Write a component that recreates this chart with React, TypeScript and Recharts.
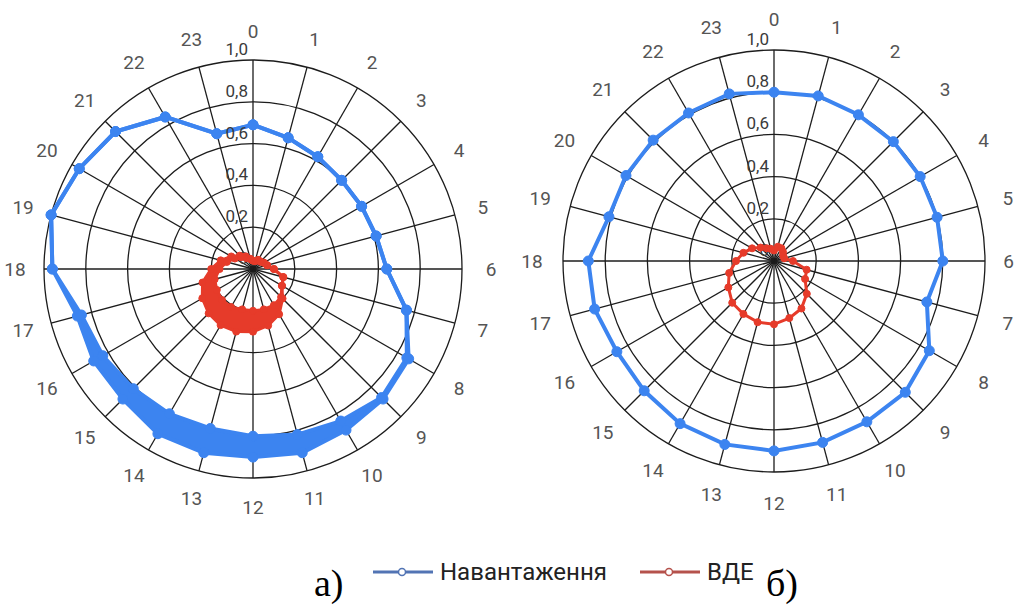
import React from 'react';
import { RadarChart, Radar, PolarGrid, PolarAngleAxis, PolarRadiusAxis } from 'recharts';

const hours = [
    '0', '1', '2', '3', '4', '5', '6', '7', '8', '9', '10', '11',
    '12', '13', '14', '15', '16', '17', '18', '19', '20', '21', '22', '23'
];
const radiusTicks = [0, 0.2, 0.4, 0.6, 0.8, 1];

// а) load has a wide band between two curves from ~9 to ~17 h
const loadA = [0.69, 0.65, 0.62, 0.60, 0.60, 0.61, 0.64, 0.76, 0.86, 0.88, 0.89, 0.91, 0.90, 0.91, 0.91, 0.88, 0.88, 0.87, 0.96, 1.0, 0.96, 0.93, 0.84, 0.67];
const loadLowA = [0.69, 0.65, 0.62, 0.60, 0.60, 0.61, 0.64, 0.76, 0.85, 0.87, 0.84, 0.82, 0.80, 0.79, 0.80, 0.81, 0.83, 0.85, 0.96, 1.0, 0.96, 0.93, 0.84, 0.67];
const resA = [0.04, 0.04, 0.05, 0.05, 0.06, 0.07, 0.10, 0.15, 0.16, 0.20, 0.25, 0.28, 0.30, 0.31, 0.31, 0.30, 0.28, 0.25, 0.20, 0.16, 0.12, 0.09, 0.07, 0.05];
const resLowA = [0.04, 0.04, 0.05, 0.05, 0.06, 0.07, 0.10, 0.15, 0.16, 0.19, 0.20, 0.20, 0.20, 0.20, 0.21, 0.21, 0.20, 0.19, 0.16, 0.13, 0.10, 0.08, 0.06, 0.05];

// б)
const loadB = [0.80, 0.81, 0.80, 0.80, 0.80, 0.80, 0.80, 0.75, 0.85, 0.88, 0.88, 0.89, 0.90, 0.90, 0.89, 0.87, 0.86, 0.88, 0.88, 0.81, 0.81, 0.81, 0.81, 0.82];
const resB = [0.05, 0.07, 0.07, 0.06, 0.05, 0.05, 0.09, 0.16, 0.17, 0.22, 0.26, 0.28, 0.30, 0.30, 0.29, 0.28, 0.25, 0.22, 0.18, 0.15, 0.12, 0.09, 0.07, 0.06];

const BLUE = '#3c84f0';
const RED = '#e63b2a';
const GRID = '#1c1c1c';
const FONT = 'Roboto, "Noto Sans", sans-serif';

const dataA = hours.map((h, i) => ({
    hour: h,
    load: [loadLowA[i], loadA[i]],
    loadLow: loadLowA[i],
    res: [resLowA[i], resA[i]],
    resLow: resLowA[i],
}));

const dataB = hours.map((h, i) => ({ hour: h, load: loadB[i], res: resB[i] }));

const fmt = (v: number) => (v === 0 ? '0' : v.toFixed(1).replace('.', ','));

// hour labels sit centred on a circle outside the grid; kept inside the chart box
const hourTick = (cx: number, cy: number, r: number, maxX: number) => (props: any) => {
    const a = Math.atan2(props.y - cy, props.x - cx);
    let x = cx + r * Math.cos(a);
    let anchor: 'middle' | 'end' = 'middle';
    if (x + 6 > maxX) {
        x = maxX;
        anchor = 'end';
    }
    return (
        <text
            x={x}
            y={cy + r * Math.sin(a)}
            textAnchor={anchor}
            dominantBaseline="central"
            fontSize={19}
            fontFamily={FONT}
            fill="#555"
        >
            {props.payload.value}
        </text>
    );
};

const radiusTick = (props: any) => (
    <text x={props.x - 5} y={props.y - 5} textAnchor="end" fontSize={17} fontFamily={FONT} fill="#3a3a3a">
        {fmt(props.payload.value)}
    </text>
);

export default function App() {
    const A = { cx: 253, cy: 269, r: 209 };
    const B = { cx: 266, cy: 261, r: 211 };

    return (
        <div style={{ position: 'absolute', left: 0, top: 0, width: 1016, height: 607, background: '#fff', overflow: 'hidden', fontFamily: FONT }}>
            <div style={{ position: 'absolute', left: 0, top: 0 }}>
                <RadarChart width={508} height={540} data={dataA} cx={A.cx} cy={A.cy} outerRadius={A.r} margin={{ top: 0, right: 0, bottom: 0, left: 0 }}>
                    <PolarGrid gridType="circle" stroke={GRID} strokeWidth={1.3} strokeOpacity={1} />
                    <PolarAngleAxis dataKey="hour" axisLine={false} tickLine={false} tick={hourTick(A.cx, A.cy, A.r + 29, 506)} />
                    <PolarRadiusAxis angle={90} type="number" domain={[0, 1]} ticks={radiusTicks} tickCount={6} axisLine={false} tickLine={false} tick={radiusTick} />
                    <Radar dataKey="load" stroke={BLUE} strokeWidth={4} fill={BLUE} fillOpacity={1} dot={{ r: 5, fill: BLUE, stroke: BLUE, strokeWidth: 1 }} isAnimationActive={false} />
                    <Radar dataKey="loadLow" stroke="none" fill="none" dot={{ r: 5, fill: BLUE, stroke: BLUE, strokeWidth: 1 }} legendType="none" isAnimationActive={false} />
                    <Radar dataKey="res" stroke={RED} strokeWidth={3} fill={RED} fillOpacity={1} dot={{ r: 3.5, fill: RED, stroke: RED, strokeWidth: 1 }} isAnimationActive={false} />
                    <Radar dataKey="resLow" stroke="none" fill="none" dot={{ r: 3.5, fill: RED, stroke: RED, strokeWidth: 1 }} legendType="none" isAnimationActive={false} />
                </RadarChart>
            </div>
            <div style={{ position: 'absolute', left: 508, top: 0 }}>
                <RadarChart width={508} height={540} data={dataB} cx={B.cx} cy={B.cy} outerRadius={B.r} margin={{ top: 0, right: 0, bottom: 0, left: 0 }}>
                    <PolarGrid gridType="circle" stroke={GRID} strokeWidth={1.3} strokeOpacity={1} />
                    <PolarAngleAxis dataKey="hour" axisLine={false} tickLine={false} tick={hourTick(B.cx, B.cy, B.r + 31, 506)} />
                    <PolarRadiusAxis angle={90} type="number" domain={[0, 1]} ticks={radiusTicks} tickCount={6} axisLine={false} tickLine={false} tick={radiusTick} />
                    <Radar dataKey="load" stroke={BLUE} strokeWidth={4} fill="none" dot={{ r: 5, fill: BLUE, stroke: BLUE, strokeWidth: 1 }} isAnimationActive={false} />
                    <Radar dataKey="res" stroke={RED} strokeWidth={3} fill="none" dot={{ r: 3.5, fill: RED, stroke: RED, strokeWidth: 1 }} isAnimationActive={false} />
                </RadarChart>
            </div>

            {/* legend */}
            <div style={{ position: 'absolute', left: 373, top: 558, display: 'flex', alignItems: 'center', fontSize: 24, color: '#222', lineHeight: '28px' }}>
                <svg width={60} height={14} style={{ marginRight: 7 }}>
                    <line x1={0} y1={7} x2={60} y2={7} stroke="#5274b4" strokeWidth={3} />
                    <circle cx={29} cy={7} r={3.5} fill="#fff" stroke="#5274b4" strokeWidth={1.5} />
                </svg>
                <span>Навантаження</span>
                <svg width={60} height={14} style={{ marginLeft: 33, marginRight: 7 }}>
                    <line x1={0} y1={7} x2={60} y2={7} stroke="#b5524c" strokeWidth={3} />
                    <circle cx={29} cy={7} r={3.5} fill="#fff" stroke="#b5524c" strokeWidth={1.5} />
                </svg>
                <span>ВДЕ</span>
            </div>

            <div style={{ position: 'absolute', left: 314, top: 560, fontFamily: '"Liberation Serif", "Times New Roman", serif', fontSize: 38, lineHeight: '46px', color: '#000' }}>а)</div>
            <div style={{ position: 'absolute', left: 766, top: 560, fontFamily: '"Liberation Serif", "Times New Roman", serif', fontSize: 38, lineHeight: '46px', color: '#000' }}>б)</div>
        </div>
    );
}
